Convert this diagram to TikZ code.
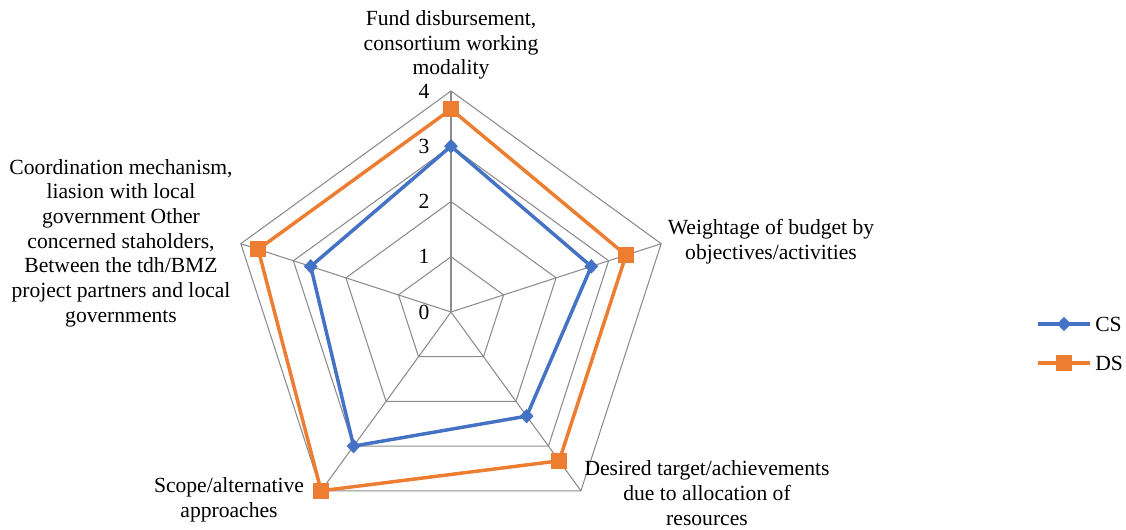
\documentclass[tikz,border=0pt]{standalone}
\usepackage{fontspec}
\setmainfont{Liberation Serif}
\usetikzlibrary{shapes.geometric,calc}
\definecolor{csblue}{HTML}{4472C4}
\definecolor{dsorange}{HTML}{ED7D31}
\definecolor{gridgray}{HTML}{8C8C8C}

\begin{document}
\begin{tikzpicture}[x=0.75pt,y=0.75pt,
  gridline/.style={draw=gridgray, line width=0.8pt},
  series/.style={line width=2.6pt, line join=round},
  txt/.style={font=\fontsize{16.2}{18.5}\selectfont, align=center, inner sep=0pt},
  csmark/.style={diamond, fill=csblue, inner sep=0pt, minimum width=10.5pt, minimum height=11pt},
  dsmark/.style={rectangle, fill=dsorange, inner sep=0pt, minimum size=12pt}
]
\useasboundingbox (0,0) rectangle (1126,530);

% centre of the radar chart, one unit of value = 55.25
\coordinate (O) at (451,218);
\def\U{55.25}

% concentric pentagons for values 1..4
\foreach \k in {1,...,4}{
  \draw[gridline] ($(O)+(90:{\k*\U})$)
    \foreach \i in {1,...,4}{ -- ($(O)+({90-72*\i}:{\k*\U})$) } -- cycle;
}
% spokes
\foreach \i in {0,...,4}{
  \coordinate (ax\i) at ($(O)+({90-72*\i}:{4*\U})$);
  \draw[gridline] (O) -- (ax\i);
}

% value scale
\foreach \k in {0,...,4}{
  \node[txt] (tick\k) at (424,{218+\k*\U}) {\k};
}

% data points
\foreach \i/\v in {0/3,1/2.67,2/2.33,3/3,4/2.67}{
  \coordinate (cs\i) at ($(O)+({90-72*\i}:{\v*\U})$);
}
\foreach \i/\v in {0/3.67,1/3.33,2/3.33,3/4,4/3.67}{
  \coordinate (ds\i) at ($(O)+({90-72*\i}:{\v*\U})$);
}

\draw[series, csblue] (cs0) -- (cs1) -- (cs2) -- (cs3) -- (cs4) -- cycle;
\draw[series, dsorange] (ds0) -- (ds1) -- (ds2) -- (ds3) -- (ds4) -- cycle;
\foreach \i in {0,...,4}{
  \node[csmark] (csm\i) at (cs\i) {};
  \node[dsmark] (dsm\i) at (ds\i) {};
}

% axis captions
\node[txt] (lab0) at (451,485) {Fund disbursement,\\consortium working\\modality};
\node[txt] (lab1) at (771,288) {Weightage of budget by\\objectives/activities};
\node[txt] (lab2) at (707,37) {Desired target/achievements\\due to allocation of\\resources};
\node[txt] (lab3) at (229,30) {Scope/alternative\\approaches};
\node[txt] (lab4) at (121,287) {Coordination mechanism,\\liasion with local\\government Other\\concerned staholders,\\Between the tdh/BMZ\\project partners and local\\governments};

% legend
\coordinate (csa) at (1038,206);
\coordinate (csb) at (1090,206);
\draw[series, csblue] (csa) -- (csb);
\node[csmark] (legcs) at ($(csa)!0.5!(csb)$) {};
\node[txt, anchor=west] (legcst) at (1095,206) {CS};

\coordinate (dsa) at (1038,167);
\coordinate (dsb) at (1090,167);
\draw[series, dsorange] (dsa) -- (dsb);
\node[dsmark] (legds) at ($(dsa)!0.5!(dsb)$) {};
\node[txt, anchor=west] (legdst) at (1095,167) {DS};
\end{tikzpicture}
\end{document}
